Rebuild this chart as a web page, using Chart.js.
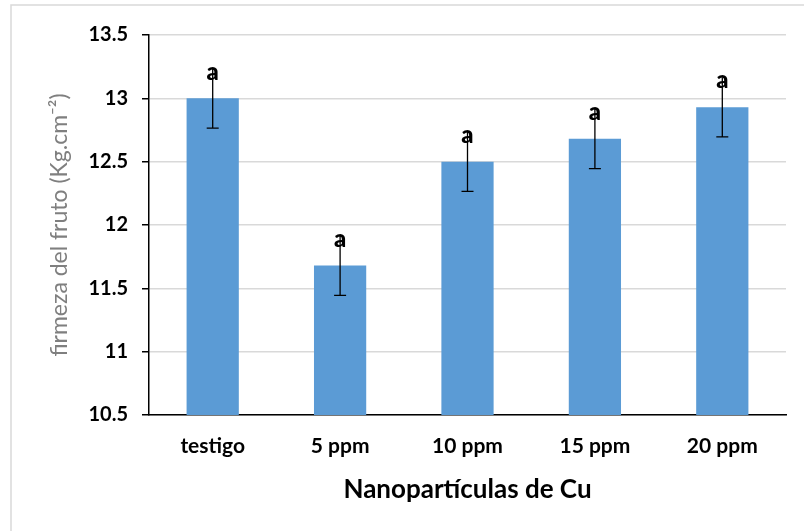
<!DOCTYPE html>
<html>
<head>
<meta charset="utf-8">
<script src="https://cdn.jsdelivr.net/npm/chart.js@4"></script>
<style>
  html, body { margin: 0; padding: 0; background: #fff; }
  #wrap { width: 804px; height: 531px; }
</style>
</head>
<body>
<div id="wrap"><canvas id="myChart" width="804" height="531"></canvas></div>
<script>
const labels = ['testigo', '5 ppm', '10 ppm', '15 ppm', '20 ppm'];
const firmeza = [13.0, 11.68, 12.5, 12.68, 12.93];
const errores = [0.235, 0.235, 0.235, 0.235, 0.235];
const letras = ['a', 'a', 'a', 'a', 'a'];

// marco gris y barras de error con letras
const extras = {
  id: 'extras',
  beforeDraw(chart) {
    const c = chart.ctx;
    c.save();
    c.strokeStyle = '#d9d9d9';
    c.lineWidth = 1.5;
    c.beginPath();
    c.moveTo(11, 531);
    c.lineTo(11, 5);
    c.lineTo(804, 5);
    c.stroke();
    c.restore();
  },
  afterDatasetsDraw(chart) {
    const c = chart.ctx;
    const x = chart.scales.x, y = chart.scales.y;
    c.save();
    c.strokeStyle = '#000';
    c.lineWidth = 1.3;
    c.fillStyle = '#000';
    c.font = '900 24px Lato';
    c.textAlign = 'center';
    c.textBaseline = 'alphabetic';
    firmeza.forEach((v, i) => {
      const px = x.getPixelForValue(i);
      const top = y.getPixelForValue(v + errores[i]);
      const bot = y.getPixelForValue(v - errores[i]);
      c.beginPath();
      c.moveTo(px, top); c.lineTo(px, bot);
      c.moveTo(px - 6, bot); c.lineTo(px + 6, bot);
      c.stroke();
      c.fillText(letras[i], px, top + 11);
    });
    c.restore();
  }
};

const ctx = document.getElementById('myChart');

new Chart(ctx, {
  type: 'bar',
  data: {
    labels: labels,
    datasets: [{
      label: 'firmeza',
      data: firmeza,
      backgroundColor: '#5b9bd5',
      borderWidth: 0,
      categoryPercentage: 1,
      barPercentage: 0.41,
    }],
  },
  plugins: [extras],
  options: {
    responsive: false,
    animation: false,
    layout: { padding: { top: 35, right: 18, left: 0, bottom: 0 } },
    plugins: { legend: { display: false }, tooltip: { enabled: false } },
    scales: {
      x: {
        afterFit(s) { s.height = 116; },
        grid: { display: false, drawTicks: false },
        border: { color: '#000', width: 1.5 },
        ticks: { color: '#000', padding: 19, font: { family: 'Lato', size: 21, weight: 'bold' } },
        title: {
          display: true,
          text: 'Nanopartículas de Cu',
          color: '#000',
          font: { family: 'Lato', size: 26, weight: 'bold' },
          padding: { top: 0, bottom: 26 }
        }
      },
      y: {
        min: 10.5,
        max: 13.5,
        afterFit(s) { s.width = 149; },
        grid: { color: '#d9d9d9', lineWidth: 1.5, tickColor: '#000', tickLength: 7 },
        border: { color: '#000', width: 1.5 },
        ticks: {
          stepSize: 0.5, color: '#000', padding: 14,
          font: { family: 'Lato', size: 20, weight: 'bold' },
          callback: v => String(v)
        },
        title: {
          display: true,
          text: 'firmeza del fruto (Kg.cm⁻²)',
          color: '#7f7f7f',
          font: { family: 'Lato', size: 23 },
          padding: { top: 46, bottom: 0 }
        }
      }
    }
  }
});
</script>
</body>
</html>
